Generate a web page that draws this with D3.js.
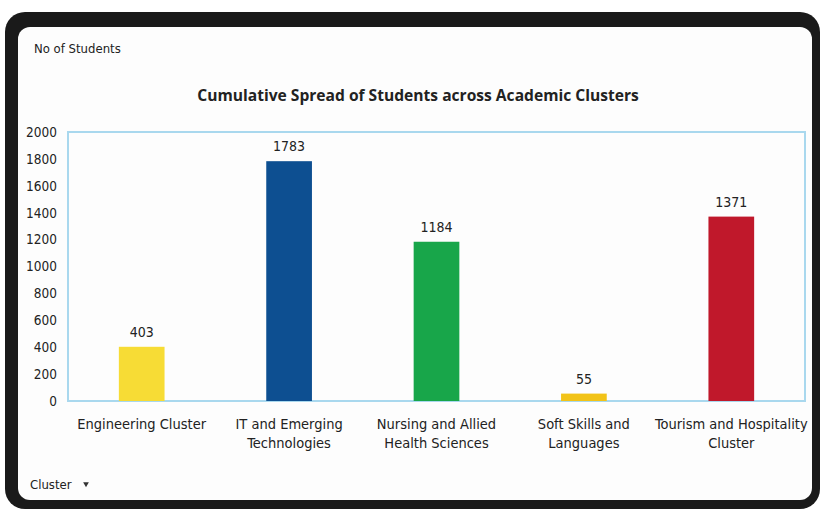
<!DOCTYPE html>
<html>
<head>
<meta charset="utf-8">
<script src="https://cdn.jsdelivr.net/npm/d3@7"></script>
<style>
  html, body { margin: 0; padding: 0; background: #ffffff; }
  svg { display: block; }
  .narrow { font-family: "DejaVu Sans", sans-serif; font-stretch: condensed; }
</style>
</head>
<body>
<svg id="chart" width="823" height="513"></svg>
<script>
// Students per academic cluster
const clusters = [
  "Engineering Cluster",
  "IT and Emerging Technologies",
  "Nursing and Allied Health Sciences",
  "Soft Skills and Languages",
  "Tourism and Hospitality Cluster"
];
const clusterLines = [
  ["Engineering Cluster"],
  ["IT and Emerging", "Technologies"],
  ["Nursing and Allied", "Health Sciences"],
  ["Soft Skills and", "Languages"],
  ["Tourism and Hospitality", "Cluster"]
];
const students = [403, 1783, 1184, 55, 1371];
const barColors = ["#f7dc35", "#0d4f91", "#18a64a", "#f2c318", "#c0182b"];
const yTicks = [0, 200, 400, 600, 800, 1000, 1200, 1400, 1600, 1800, 2000];

const svg = d3.select("#chart");

// Dark rounded frame with white panel inside
svg.append("rect").attr("x", 5).attr("y", 12).attr("width", 815).attr("height", 497)
  .attr("rx", 20).attr("fill", "#1a1a1a");
svg.append("rect").attr("x", 18).attr("y", 27).attr("width", 794).attr("height", 473)
  .attr("rx", 12).attr("fill", "#fdfdfd");

const plot = { left: 68, right: 805, top: 132, bottom: 401 };

const x = d3.scaleBand().domain(clusters).range([plot.left, plot.right]).paddingInner(0.69).paddingOuter(0.345);
const y = d3.scaleLinear().domain([0, 2000]).range([plot.bottom, plot.top]);

// Plot area border
svg.append("rect")
  .attr("x", plot.left).attr("y", plot.top)
  .attr("width", plot.right - plot.left).attr("height", plot.bottom - plot.top)
  .attr("fill", "none").attr("stroke", "#a9d8ee").attr("stroke-width", 2);

// Y axis labels
const yAxis = d3.axisLeft(y).tickValues(yTicks).tickFormat(d3.format("d")).tickSize(0).tickPadding(11);
const yg = svg.append("g").attr("transform", `translate(${plot.left},0)`).call(yAxis);
yg.select(".domain").remove();
yg.selectAll("text").attr("class", "narrow").attr("font-family", null).attr("font-size", 13.5).attr("fill", "#222");

// Bars
svg.selectAll("rect.bar").data(clusters).enter().append("rect")
  .attr("class", "bar")
  .attr("x", d => x(d))
  .attr("width", x.bandwidth())
  .attr("y", (d, i) => y(students[i]))
  .attr("height", (d, i) => y(0) - y(students[i]))
  .attr("fill", (d, i) => barColors[i]);

// Value labels
svg.selectAll("text.val").data(clusters).enter().append("text")
  .attr("class", "val narrow")
  .attr("x", d => x(d) + x.bandwidth() / 2)
  .attr("y", (d, i) => y(students[i]) - 10)
  .attr("text-anchor", "middle")
  .attr("font-size", 14)
  .attr("fill", "#222")
  .text((d, i) => students[i]);

// Category labels
const cat = svg.selectAll("text.cat").data(clusters).enter().append("text")
  .attr("class", "cat narrow")
  .attr("x", d => x(d) + x.bandwidth() / 2)
  .attr("y", plot.bottom + 28)
  .attr("text-anchor", "middle")
  .attr("font-size", 14.5)
  .attr("fill", "#222");
cat.each(function(d, i) {
  const t = d3.select(this);
  clusterLines[i].forEach((line, j) => {
    t.append("tspan").attr("x", x(d) + x.bandwidth() / 2).attr("dy", j === 0 ? 0 : 19).text(line);
  });
});

// Title
svg.append("text")
  .attr("x", 418).attr("y", 101)
  .attr("text-anchor", "middle")
  .attr("font-family", "'Open Sans', sans-serif")
  .attr("font-weight", "bold")
  .attr("font-size", 15.6)
  .attr("fill", "#222")
  .text("Cumulative Spread of Students across Academic Clusters");

// Field buttons
svg.append("text").attr("class", "narrow")
  .attr("x", 34).attr("y", 53).attr("font-size", 13).attr("fill", "#222")
  .text("No of Students");
svg.append("text").attr("class", "narrow")
  .attr("x", 30).attr("y", 489).attr("font-size", 13).attr("fill", "#222")
  .text("Cluster");
svg.append("path")
  .attr("d", d3.symbol(d3.symbolTriangle, 14)())
  .attr("transform", "translate(86,484) rotate(180)")
  .attr("fill", "#333");
</script>
</body>
</html>
